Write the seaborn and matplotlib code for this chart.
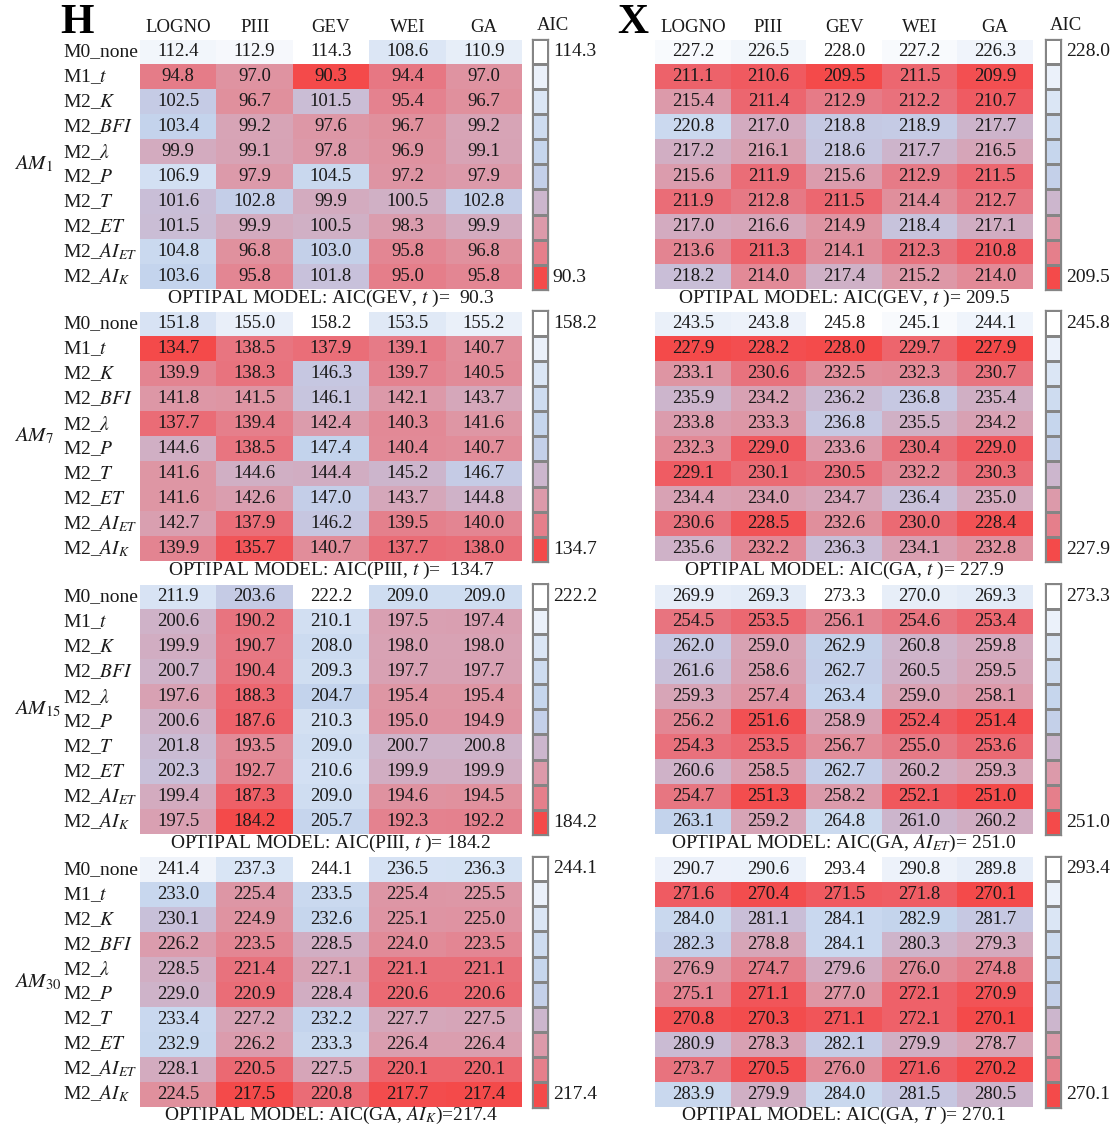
import numpy as np
import pandas as pd
import matplotlib
matplotlib.use("Agg")
import matplotlib.pyplot as plt
import seaborn as sns
from matplotlib.colors import LinearSegmentedColormap, ListedColormap
from matplotlib import transforms

sns.set_theme(style="white")
plt.rcParams["font.family"] = ["Liberation Serif", "DejaVu Serif"]
plt.rcParams["mathtext.fontset"] = "stix"

# ---------------------------------------------------------------- data
distributions = ["LOGNO", "PIII", "GEV", "WEI", "GA"]
models = ["M0_none", "M1_$t$", "M2_$K$", "M2_$BFI$", r"M2_$\lambda$", "M2_$P$",
          "M2_$T$", "M2_$ET$", "M2_$AI_{ET}$", "M2_$AI_{K}$"]
durations = [r"$AM_{\mathit{1}}$", r"$AM_{\mathit{7}}$",
             r"$AM_{\mathit{15}}$", r"$AM_{\mathit{30}}$"]

h_am1 = [[112.4, 112.9, 114.3, 108.6, 110.9],
         [94.8, 97.0, 90.3, 94.4, 97.0],
         [102.5, 96.7, 101.5, 95.4, 96.7],
         [103.4, 99.2, 97.6, 96.7, 99.2],
         [99.9, 99.1, 97.8, 96.9, 99.1],
         [106.9, 97.9, 104.5, 97.2, 97.9],
         [101.6, 102.8, 99.9, 100.5, 102.8],
         [101.5, 99.9, 100.5, 98.3, 99.9],
         [104.8, 96.8, 103.0, 95.8, 96.8],
         [103.6, 95.8, 101.8, 95.0, 95.8]]
h_am7 = [[151.8, 155.0, 158.2, 153.5, 155.2],
         [134.7, 138.5, 137.9, 139.1, 140.7],
         [139.9, 138.3, 146.3, 139.7, 140.5],
         [141.8, 141.5, 146.1, 142.1, 143.7],
         [137.7, 139.4, 142.4, 140.3, 141.6],
         [144.6, 138.5, 147.4, 140.4, 140.7],
         [141.6, 144.6, 144.4, 145.2, 146.7],
         [141.6, 142.6, 147.0, 143.7, 144.8],
         [142.7, 137.9, 146.2, 139.5, 140.0],
         [139.9, 135.7, 140.7, 137.7, 138.0]]
h_am15 = [[211.9, 203.6, 222.2, 209.0, 209.0],
          [200.6, 190.2, 210.1, 197.5, 197.4],
          [199.9, 190.7, 208.0, 198.0, 198.0],
          [200.7, 190.4, 209.3, 197.7, 197.7],
          [197.6, 188.3, 204.7, 195.4, 195.4],
          [200.6, 187.6, 210.3, 195.0, 194.9],
          [201.8, 193.5, 209.0, 200.7, 200.8],
          [202.3, 192.7, 210.6, 199.9, 199.9],
          [199.4, 187.3, 209.0, 194.6, 194.5],
          [197.5, 184.2, 205.7, 192.3, 192.2]]
h_am30 = [[241.4, 237.3, 244.1, 236.5, 236.3],
          [233.0, 225.4, 233.5, 225.4, 225.5],
          [230.1, 224.9, 232.6, 225.1, 225.0],
          [226.2, 223.5, 228.5, 224.0, 223.5],
          [228.5, 221.4, 227.1, 221.1, 221.1],
          [229.0, 220.9, 228.4, 220.6, 220.6],
          [233.4, 227.2, 232.2, 227.7, 227.5],
          [232.9, 226.2, 233.3, 226.4, 226.4],
          [228.1, 220.5, 227.5, 220.1, 220.1],
          [224.5, 217.5, 220.8, 217.7, 217.4]]

x_am1 = [[227.2, 226.5, 228.0, 227.2, 226.3],
         [211.1, 210.6, 209.5, 211.5, 209.9],
         [215.4, 211.4, 212.9, 212.2, 210.7],
         [220.8, 217.0, 218.8, 218.9, 217.7],
         [217.2, 216.1, 218.6, 217.7, 216.5],
         [215.6, 211.9, 215.6, 212.9, 211.5],
         [211.9, 212.8, 211.5, 214.4, 212.7],
         [217.0, 216.6, 214.9, 218.4, 217.1],
         [213.6, 211.3, 214.1, 212.3, 210.8],
         [218.2, 214.0, 217.4, 215.2, 214.0]]
x_am7 = [[243.5, 243.8, 245.8, 245.1, 244.1],
         [227.9, 228.2, 228.0, 229.7, 227.9],
         [233.1, 230.6, 232.5, 232.3, 230.7],
         [235.9, 234.2, 236.2, 236.8, 235.4],
         [233.8, 233.3, 236.8, 235.5, 234.2],
         [232.3, 229.0, 233.6, 230.4, 229.0],
         [229.1, 230.1, 230.5, 232.2, 230.3],
         [234.4, 234.0, 234.7, 236.4, 235.0],
         [230.6, 228.5, 232.6, 230.0, 228.4],
         [235.6, 232.2, 236.3, 234.1, 232.8]]
x_am15 = [[269.9, 269.3, 273.3, 270.0, 269.3],
          [254.5, 253.5, 256.1, 254.6, 253.4],
          [262.0, 259.0, 262.9, 260.8, 259.8],
          [261.6, 258.6, 262.7, 260.5, 259.5],
          [259.3, 257.4, 263.4, 259.0, 258.1],
          [256.2, 251.6, 258.9, 252.4, 251.4],
          [254.3, 253.5, 256.7, 255.0, 253.6],
          [260.6, 258.5, 262.7, 260.2, 259.3],
          [254.7, 251.3, 258.2, 252.1, 251.0],
          [263.1, 259.2, 264.8, 261.0, 260.2]]
x_am30 = [[290.7, 290.6, 293.4, 290.8, 289.8],
          [271.6, 270.4, 271.5, 271.8, 270.1],
          [284.0, 281.1, 284.1, 282.9, 281.7],
          [282.3, 278.8, 284.1, 280.3, 279.3],
          [276.9, 274.7, 279.6, 276.0, 274.8],
          [275.1, 271.1, 277.0, 272.1, 270.9],
          [270.8, 270.3, 271.1, 272.1, 270.1],
          [280.9, 278.3, 282.1, 279.9, 278.7],
          [273.7, 270.5, 276.0, 271.6, 270.2],
          [283.9, 279.9, 284.0, 281.5, 280.5]]

h_panels = [h_am1, h_am7, h_am15, h_am30]
x_panels = [x_am1, x_am7, x_am15, x_am30]

# best model per panel: (distribution, covariate, separator before the value)
h_best = [("GEV", "$t$ ", "  "), ("PIII", "$t$ ", "  "), ("PIII", "$t$ ", " "), ("GA", "$AI_{K}$", "")]
x_best = [("GEV", "$t$ ", " "), ("GA", "$t$ ", " "), ("GA", "$AI_{ET}$", " "), ("GA", "$T$ ", " ")]

# ---------------------------------------------------------------- style
W, H = 1113, 1129
TXT = "#1a1a1a"
aic_cmap = LinearSegmentedColormap.from_list("aic", [
    (0.00, "#f44a4a"), (0.08, "#ee6068"), (0.18, "#e67a86"), (0.28, "#df93a1"),
    (0.38, "#d6a6b9"), (0.45, "#ccb6cd"), (0.49, "#c6c6e0"), (0.54, "#c3d3ec"),
    (0.70, "#d4e1f3"), (0.85, "#e6edf8"), (1.00, "#ffffff")])
# ten-step key, top (largest AIC) to bottom (smallest AIC)
key_levels = [1.0, 0.88, 0.76, 0.64, 0.57, 0.53, 0.45, 0.32, 0.2, 0.0]
box_colors = ListedColormap(aic_cmap(key_levels))

fig = plt.figure(figsize=(W / 100, H / 100), dpi=100)


def px_axes(x0, y0, x1, y1):
    return fig.add_axes([x0 / W, 1 - y1 / H, (x1 - x0) / W, (y1 - y0) / H])


panel_tops = [39.5, 311.5, 584.5, 857.0]
panel_h = 249.5
blocks = [
    dict(panels=h_panels, best=h_best, x0=140, x1=522, cx0=532, cx1=548, letter="H", lx=77, labels=True),
    dict(panels=x_panels, best=x_best, x0=655, x1=1033, cx0=1045, cx1=1061, letter="X", lx=633, labels=False),
]

for blk in blocks:
    for k, (vals, top) in enumerate(zip(blk["panels"], panel_tops)):
        df = pd.DataFrame(vals, index=models, columns=distributions)
        vmin, vmax = df.values.min(), df.values.max()
        ax = px_axes(blk["x0"], top, blk["x1"], top + panel_h)
        sns.heatmap(df, ax=ax, cmap=aic_cmap, vmin=vmin, vmax=vmax, cbar=False,
                    annot=True, fmt=".1f",
                    annot_kws=dict(fontsize=13.5, color=TXT))
        ax.set_xticks([])
        ax.set_yticks([])
        ax.set_xlabel("")
        ax.set_ylabel("")

        if k == 0:
            for j, d in enumerate(distributions):
                ax.text(j + 0.5, -0.5, d, ha="center", va="center", fontsize=13.5, color=TXT)
            fig.text(blk["lx"] / W, 1 - 23 / H, blk["letter"], ha="center", va="center",
                     fontsize=31, fontweight="bold", color="black")

        if blk["labels"]:
            trans = transforms.blended_transform_factory(fig.transFigure, ax.transData)
            for i, m in enumerate(models):
                ax.text(63 / W, i + 0.5, m, transform=trans, ha="left", va="center",
                        fontsize=14, color=TXT)
            fig.text(14 / W, 1 - (top + panel_h / 2) / H, durations[k], ha="left",
                     va="center", fontsize=15, color=TXT)

        dist, cov, sep = blk["best"][k]
        cx = (blk["x0"] + blk["x1"]) / 2
        fig.text(cx / W, 1 - (top + panel_h + 9) / H,
                 f"OPTIPAL MODEL: AIC({dist}, {cov})={sep}{vmin:.1f}",
                 ha="center", va="center", fontsize=14, color=TXT)

        # discrete colour key
        cax = px_axes(blk["cx0"], top - 1, blk["cx1"], top + panel_h + 1)
        sns.heatmap(np.arange(10).reshape(-1, 1), ax=cax, cmap=box_colors,
                    vmin=-0.5, vmax=9.5, cbar=False, linewidths=0.9, linecolor="#858585")
        cax.set_xticks([])
        cax.set_yticks([])
        for s in cax.spines.values():
            s.set_visible(True)
            s.set_color("#858585")
            s.set_linewidth(0.9)
        cax.text(1.3, 0.5, f"{vmax:.1f}", ha="left", va="center", fontsize=14, color=TXT)
        cax.text(1.3, 9.5, f"{vmin:.1f}", ha="left", va="center", fontsize=14, color=TXT)
        if k == 0:
            cax.text(0.3, -0.5, "AIC", ha="left", va="center", fontsize=13.5, color=TXT)

fig.savefig("out.png", dpi=100, facecolor="white")
